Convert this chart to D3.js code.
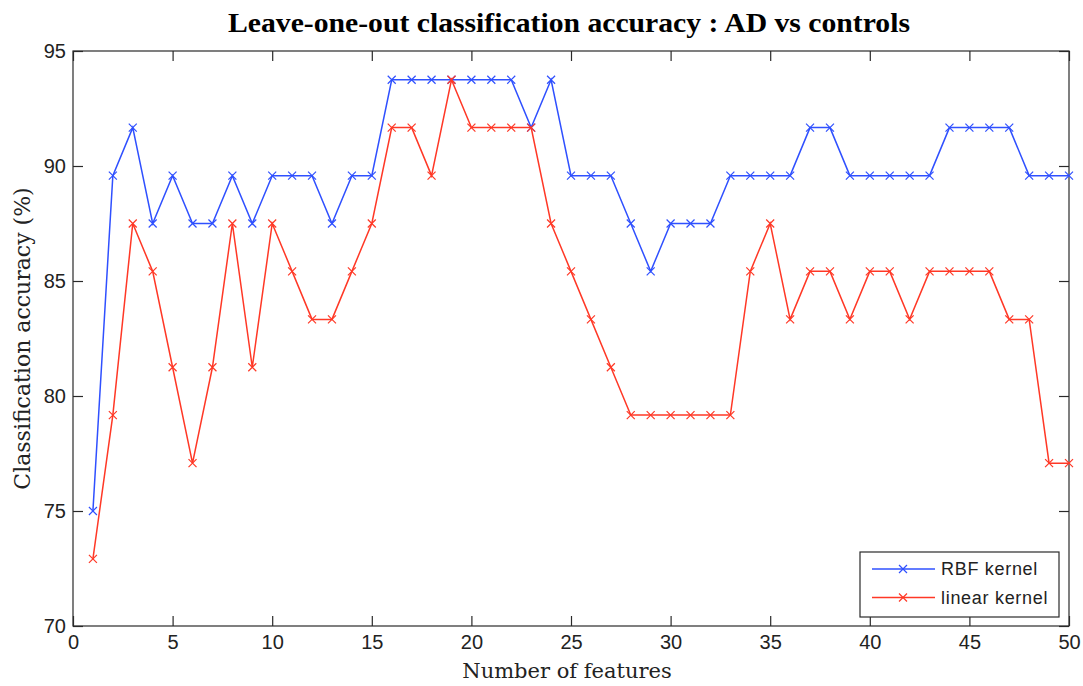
<!DOCTYPE html>
<html><head><meta charset="utf-8">
<script src="https://cdn.jsdelivr.net/npm/d3@7"></script>
<style>body{margin:0;background:#fff}</style>
</head><body>
<svg id="c" width="1083" height="686"></svg>
<script>
const features = d3.range(1, 51);
const rbfKernel = [75.00,89.58,91.67,87.50,89.58,87.50,87.50,89.58,87.50,89.58,
  89.58,89.58,87.50,89.58,89.58,93.75,93.75,93.75,93.75,93.75,
  93.75,93.75,91.67,93.75,89.58,89.58,89.58,87.50,85.42,87.50,
  87.50,87.50,89.58,89.58,89.58,89.58,91.67,91.67,89.58,89.58,
  89.58,89.58,89.58,91.67,91.67,91.67,91.67,89.58,89.58,89.58];
const linearKernel = [72.92,79.17,87.50,85.42,81.25,77.08,81.25,87.50,81.25,87.50,
  85.42,83.33,83.33,85.42,87.50,91.67,91.67,89.58,93.75,91.67,
  91.67,91.67,91.67,87.50,85.42,83.33,81.25,79.17,79.17,79.17,
  79.17,79.17,79.17,85.42,87.50,83.33,85.42,85.42,83.33,85.42,
  85.42,83.33,85.42,85.42,85.42,85.42,83.33,83.33,77.08,77.08];
const xTicks = [0,5,10,15,20,25,30,35,40,45,50];
const yTicks = [70,75,80,85,90,95];
const seriesNames = ["RBF kernel","linear kernel"];
const colors = ["#2f50ff","#ff3826"];

const svg = d3.select("#c");
const L=73, R=1069, T=51, B=626;
const x = d3.scaleLinear().domain([0,50]).range([L,R]);
const y = d3.scaleLinear().domain([70,95]).range([B,T]);
const axCol = "#2a2a2a";
const tickFont = "Liberation Sans, Arial, sans-serif";
const labFont = "DejaVu Serif, serif";

// box
svg.append("rect").attr("x",L).attr("y",T).attr("width",R-L).attr("height",B-T)
  .attr("fill","none").attr("stroke",axCol).attr("stroke-width",1.2);

// axes
const xb = svg.append("g").attr("transform",`translate(0,${B})`)
  .call(d3.axisBottom(x).tickValues(xTicks).tickSizeInner(-10).tickSizeOuter(0).tickPadding(9));
const xt = svg.append("g").attr("transform",`translate(0,${T})`)
  .call(d3.axisTop(x).tickValues(xTicks).tickSizeInner(-10).tickSizeOuter(0).tickFormat(""));
const yl = svg.append("g").attr("transform",`translate(${L},0)`)
  .call(d3.axisLeft(y).tickValues(yTicks).tickSizeInner(-10).tickSizeOuter(0).tickPadding(7));
const yr = svg.append("g").attr("transform",`translate(${R},0)`)
  .call(d3.axisRight(y).tickValues(yTicks).tickSizeInner(-10).tickSizeOuter(0).tickFormat(""));
[xb,xt,yl,yr].forEach(g=>{
  g.select(".domain").remove();
  g.selectAll("line").attr("stroke",axCol).attr("stroke-width",1.2);
  g.selectAll("text").attr("fill","#222").style("font-family",tickFont).style("font-size","20px");
});

// lines
const data = [rbfKernel, linearKernel];
const line = d3.line().x((d,i)=>x(features[i])).y(d=>y(d));
data.forEach((s,k)=>{
  svg.append("path").datum(s).attr("d",line).attr("fill","none")
    .attr("stroke",colors[k]).attr("stroke-width",1.5);
  const m=4;
  svg.append("g").selectAll("path").data(s).join("path")
    .attr("d",(d,i)=>{const cx=x(features[i]),cy=y(d);
      return `M${cx-m},${cy-m}L${cx+m},${cy+m}M${cx-m},${cy+m}L${cx+m},${cy-m}`;})
    .attr("stroke",colors[k]).attr("stroke-width",1.2).attr("fill","none");
});

// legend
const lg = svg.append("g");
lg.append("rect").attr("x",860).attr("y",552).attr("width",199).attr("height",65)
  .attr("fill","#fff").attr("stroke",axCol).attr("stroke-width",1.2);
seriesNames.forEach((n,k)=>{
  const yy = 569 + k*28.5;
  lg.append("line").attr("x1",872).attr("x2",935).attr("y1",yy).attr("y2",yy)
    .attr("stroke",colors[k]).attr("stroke-width",1.5);
  const m=4, cx=903;
  lg.append("path").attr("d",`M${cx-m},${yy-m}L${cx+m},${yy+m}M${cx-m},${yy+m}L${cx+m},${yy-m}`)
    .attr("stroke",colors[k]).attr("stroke-width",1.2);
  lg.append("text").attr("x",941).attr("y",yy).attr("dy","0.36em").text(n)
    .style("font-family",tickFont).style("font-size","18px").style("letter-spacing","0.7px").attr("fill","#222");
});

// title and labels
svg.append("text").attr("x",569).attr("y",32).attr("text-anchor","middle")
  .attr("textLength",682).attr("lengthAdjust","spacingAndGlyphs")
  .style("font-family","Liberation Serif, Times New Roman, serif").style("font-weight","bold")
  .style("font-size","27px").text("Leave-one-out classification accuracy : AD vs controls");
svg.append("text").attr("x",567).attr("y",678).attr("text-anchor","middle")
  .style("font-family",labFont)
  .style("font-size","21px").attr("fill","#222").text("Number of features");
svg.append("text").attr("transform",`translate(30,${(T+B)/2}) rotate(-90)`).attr("text-anchor","middle")
  .style("font-family",labFont)
  .style("font-size","22px").attr("fill","#222").text("Classification accuracy (%)");
</script>
</body></html>
